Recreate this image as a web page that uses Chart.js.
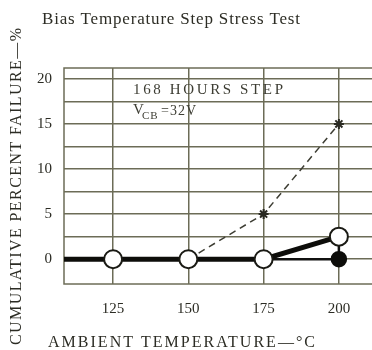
<!DOCTYPE html>
<html>
<head>
<meta charset="utf-8">
<script src="https://cdn.jsdelivr.net/npm/chart.js@4.4.0/dist/chart.umd.min.js"></script>
<style>
  html, body { margin: 0; padding: 0; background: #fff; }
</style>
</head>
<body>
<canvas id="myChart" width="372" height="350"></canvas>
<script>
'use strict';
// axis ranges (deg C / percent)
let xMin = 108.7;
let xMax = 211;
let yMin = -2.75;
let yMax = 21.2;

let temps = [125, 150, 175, 200];
let yGrid = [0, 2.5, 5, 7.5, 10, 12.5, 15, 17.5, 20];
let yLabels = ['0', '', '5', '', '10', '', '15', '', '20'];

// thick line with open circles (first point is the left edge, no marker)
let openX = [xMin, 125, 150, 175, 200];
let openY = [0, 0, 0, 0, 2.5];
// dashed line with stars
let dashX = [150, 175, 200];
let dashY = [0, 5, 15];
// thin line to the filled circle
let fillX = [175, 200, 200];
let fillY = [0, 0, 2.5];

let ink = '#2c2c24';
let gridColor = '#6c6c57';
let serif = '"Liberation Serif", "DejaVu Serif", serif';

function toPoints(xs, ys) {
  let pts = [];
  for (let i = 0; i < xs.length; i++) {
    pts.push({ x: xs[i], y: ys[i] });
  }
  return pts;
}

// draws text stretched with letter spacing so it fills a given width
function fitText(ctx, text, x, y, width, font, color) {
  ctx.font = font;
  ctx.letterSpacing = '0px';
  let w = ctx.measureText(text).width;
  let gap = (width - w) / (text.length - 1);
  ctx.letterSpacing = gap + 'px';
  ctx.fillStyle = color;
  ctx.textAlign = 'left';
  ctx.textBaseline = 'middle';
  ctx.fillText(text, x, y);
  ctx.letterSpacing = '0px';
}

let framePlugin = {
  id: 'frame',
  beforeDatasetsDraw(chart) {
    let a = chart.chartArea;
    let ctx = chart.ctx;
    ctx.save();
    ctx.strokeStyle = gridColor;
    ctx.lineWidth = 1.5;
    ctx.strokeRect(a.left, a.top, a.right - a.left + 5, a.bottom - a.top);
    ctx.restore();
  }
};

let textPlugin = {
  id: 'texts',
  afterDraw(chart) {
    let ctx = chart.ctx;
    let a = chart.chartArea;
    ctx.save();
    // title
    fitText(ctx, 'Bias Temperature Step Stress Test', 42, 20, 258, '17px ' + serif, ink);
    // x title
    fitText(ctx, 'AMBIENT TEMPERATURE\u2014\u00b0C', 48, 343, 267, '16px ' + serif, ink);
    // y title (rotated)
    ctx.save();
    ctx.translate(17, 345);
    ctx.rotate(-Math.PI / 2);
    fitText(ctx, 'CUMULATIVE PERCENT FAILURE\u2014%', 0, 0, 317, '16px ' + serif, ink);
    ctx.restore();
    // note inside the plot
    fitText(ctx, '168 HOURS STEP', a.left + 69, 90, 150, '15px ' + serif, '#3d3d33');
    ctx.font = '15px ' + serif;
    ctx.fillStyle = '#3d3d33';
    ctx.textBaseline = 'alphabetic';
    ctx.fillText('V', a.left + 69, 114);
    ctx.font = '11px ' + serif;
    ctx.letterSpacing = '1px';
    ctx.fillText('CB', a.left + 78, 119);
    ctx.font = '14px ' + serif;
    ctx.letterSpacing = '1px';
    ctx.fillText('=32V', a.left + 97, 115);
    ctx.restore();
  }
};

let ctx = document.getElementById('myChart').getContext('2d');
let myChart = new Chart(ctx, {
  type: 'line',
  data: {
    datasets: [{
      label: 'open',
      data: toPoints(openX, openY),
      borderColor: '#0d0d0a',
      borderWidth: 5,
      pointRadius: [0, 9, 9, 9, 9],
      pointBackgroundColor: '#ffffff',
      pointBorderColor: '#1a1a14',
      pointBorderWidth: 2,
      order: 0
    },
    {
      label: 'filled',
      data: toPoints(fillX, fillY),
      borderColor: '#111110',
      borderWidth: 2.5,
      pointRadius: [0, 7, 0],
      pointBackgroundColor: '#0d0d0a',
      pointBorderColor: '#0d0d0a',
      order: 1
    },
    {
      label: 'dashed',
      data: toPoints(dashX, dashY),
      borderColor: '#3d3d33',
      borderWidth: 1.5,
      borderDash: [7, 5],
      pointStyle: 'star',
      pointRadius: [0, 5, 5],
      pointBorderColor: '#2a2a22',
      pointBorderWidth: 2,
      order: 2
    }]
  },
  options: {
    responsive: false,
    animation: false,
    layout: { autoPadding: false, padding: { top: 68, left: 0, right: 0, bottom: 0 } },
    plugins: {
      legend: { display: false },
      tooltip: { enabled: false }
    },
    scales: {
      x: {
        type: 'linear',
        min: xMin,
        max: xMax,
        afterBuildTicks: function (scale) {
          scale.ticks = temps.map(function (v) { return { value: v }; });
        },
        afterFit: function (scale) {
          scale.height = 66;
          scale.paddingLeft = 0;
          scale.paddingRight = 0;
        },
        grid: { color: gridColor, lineWidth: 1.5, drawTicks: false },
        border: { display: false },
        ticks: {
          padding: 16,
          color: ink,
          font: { family: serif, size: 15 },
          maxRotation: 0,
          callback: function (v) { return String(v); }
        }
      },
      y: {
        min: yMin,
        max: yMax,
        afterBuildTicks: function (scale) {
          scale.ticks = yGrid.map(function (v) { return { value: v }; });
        },
        afterFit: function (scale) {
          scale.width = 64;
          scale.paddingTop = 0;
          scale.paddingBottom = 0;
        },
        grid: { color: gridColor, lineWidth: 1.5, drawTicks: false },
        border: { display: false },
        ticks: {
          padding: 12,
          color: ink,
          font: { family: serif, size: 15 },
          callback: function (v, i) { return yLabels[i]; }
        }
      }
    }
  },
  plugins: [framePlugin, textPlugin]
});
</script>
</body>
</html>
